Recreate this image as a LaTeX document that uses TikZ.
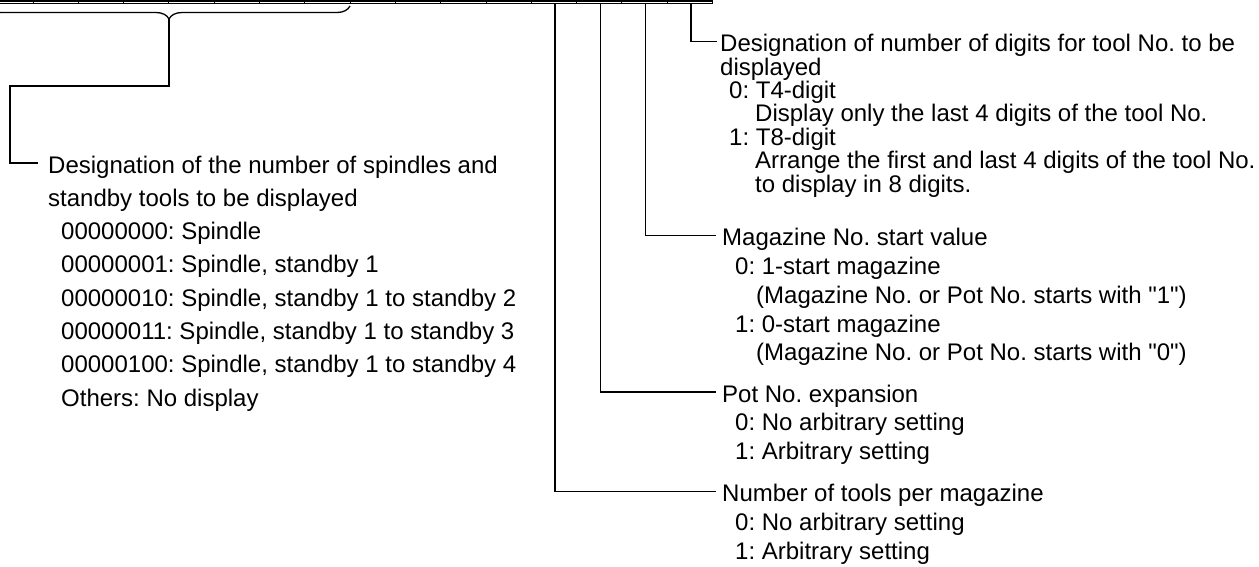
\documentclass[tikz,border=0pt]{standalone}
\usepackage{fontspec}
\setmainfont{Liberation Sans}[Ligatures=TeXOff]
\usetikzlibrary{decorations.pathreplacing,calc}
\frenchspacing
\begin{document}
\begin{tikzpicture}[x=1pt,y=-1pt,
  lbl/.style={anchor=base west, inner sep=0pt, font=\fontsize{24}{24}\selectfont},
  conn/.style={line width=1.3pt, line join=miter},
  cellwall/.style={line width=1pt},
  regline/.style={line width=2.5pt}]
\useasboundingbox (0,0) rectangle (1259,566);
\begin{scope}
\clip (0,0) rectangle (1259,566);
\foreach \k in {-1,...,14} {
  \draw[cellwall] ({33+45.3*\k},-30) rectangle ({33+45.3*(\k+1)},3);
}
\draw[regline] (-20,1) -- (712.5,1);
\draw[conn, decorate, decoration={brace, amplitude=13pt}] (350,6) -- (-12,6);
\end{scope}

% bit coordinates
\coordinate (brtip) at (169,19);
\coordinate (lc) at (10,86);
\coordinate (b0) at (690.85,2.5);
\coordinate (b1) at (645.55,2.5);
\coordinate (b2) at (600.25,2.5);
\coordinate (b3) at (554.95,2.5);

% left block
\node[lbl] (L1) at (48,173) {Designation of the number of spindles and};
\node[lbl] (L2) at (48,206.3) {standby tools to be displayed};
\node[lbl] (L3) at (61,239.6) {00000000: Spindle};
\node[lbl] (L4) at (61,272.9) {00000001: Spindle, standby 1};
\node[lbl] (L5) at (61,306.2) {00000010: Spindle, standby 1 to standby 2};
\node[lbl] (L6) at (61,339.5) {00000011: Spindle, standby 1 to standby 3};
\node[lbl] (L7) at (61,372.8) {00000100: Spindle, standby 1 to standby 4};
\node[lbl] (L8) at (61,406.1) {Others: No display};

% top right block
\node[lbl] (R1) at (720,51.7) {Designation of number of digits for tool No. to be};
\node[lbl] (R2) at (720,75.1) {displayed};
\node[lbl] (R3) at (729,98.5) {0: T4-digit};
\node[lbl] (R4) at (755,121.9) {Display only the last 4 digits of the tool No.};
\node[lbl] (R5) at (729,145.3) {1: T8-digit};
\node[lbl] (R6) at (755,168.7) {Arrange the first and last 4 digits of the tool No.};
\node[lbl] (R7) at (755,192.1) {to display in 8 digits.};

% magazine block
\node[lbl] (M1) at (722,245.7) {Magazine No. start value};
\node[lbl] (M2) at (735,274.5) {0: 1-start magazine};
\node[lbl] (M3) at (756,303.3) {(Magazine No. or Pot No. starts with "1")};
\node[lbl] (M4) at (735,332.1) {1: 0-start magazine};
\node[lbl] (M5) at (756,360.9) {(Magazine No. or Pot No. starts with "0")};

% pot block
\node[lbl] (P1) at (722,402) {Pot No. expansion};
\node[lbl] (P2) at (735,430.8) {0: No arbitrary setting};
\node[lbl] (P3) at (735,459.6) {1: Arbitrary setting};

% tools block
\node[lbl] (N1) at (722,501.7) {Number of tools per magazine};
\node[lbl] (N2) at (735,530.5) {0: No arbitrary setting};
\node[lbl] (N3) at (735,559.3) {1: Arbitrary setting};

% connectors
\draw[conn] (brtip) |- (lc) |- ($(L1.base west)+(-10,-10)$);
\draw[conn] (b0) |- ($(R1.base west)+(-3,-10)$);
\draw[conn] (b1) |- ($(M1.base west)+(-6,-10)$);
\draw[conn] (b2) |- ($(P1.base west)+(-6,-10)$);
\draw[conn] (b3) |- ($(N1.base west)+(-6,-10)$);
\end{tikzpicture}
\end{document}
